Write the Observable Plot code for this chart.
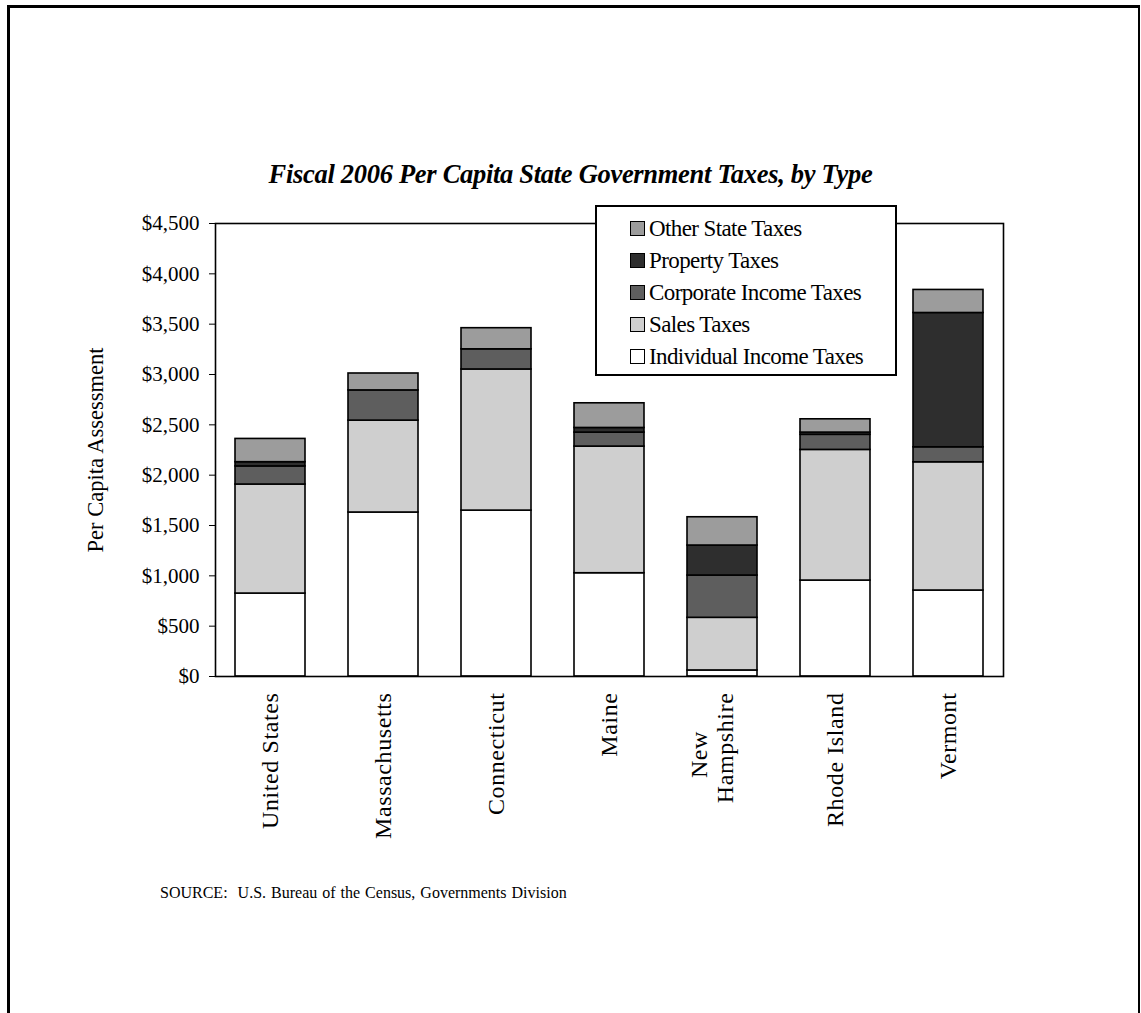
<!DOCTYPE html>
<html>
<head>
<meta charset="utf-8">
<script src="https://cdn.jsdelivr.net/npm/d3@7"></script>
<script src="https://cdn.jsdelivr.net/npm/@observablehq/plot@0.6"></script>
<style>
  html, body { margin: 0; padding: 0; background: #fff; }
  body { width: 1141px; height: 1013px; position: relative; overflow: hidden; font-family: "Liberation Serif", "Times New Roman", serif; }
  #page { position: absolute; left: 7px; top: 5px; width: 1133px; height: 1030px; box-sizing: border-box; border-left: 3px solid #000; border-top: 3px solid #000; border-right: 2px solid #000; }
  #title { position: absolute; left: 0; width: 1141px; top: 159px; text-align: center; font-size: 26.5px; font-weight: bold; font-style: italic; color: #000; letter-spacing: -0.3px; }
  #chart { position: absolute; left: 0; top: 0; }
  #legend { position: absolute; left: 595px; top: 205px; width: 302px; height: 171px; box-sizing: border-box; border: 2px solid #000; background: #fff; padding-top: 5px; }
  .row { position: relative; height: 32px; display: flex; align-items: center; padding-left: 33px; font-size: 23px; letter-spacing: -0.6px; line-height: 1; }
  .sw { width: 13px; height: 13px; border: 1.5px solid #000; margin-right: 4px; flex: none; }
  #source { position: absolute; left: 160px; top: 884px; font-size: 16px; color: #000; word-spacing: 1px; }
</style>
</head>
<body>
<div id="page"></div>
<div id="chart"></div>
<div id="title">Fiscal 2006 Per Capita State Government Taxes, by Type</div>
<div id="legend"></div>
<div id="source">SOURCE:&nbsp; U.S. Bureau of the Census, Governments Division</div>
<script>
// ---- data (per capita dollars) ----
const states = ["United States", "Massachusetts", "Connecticut", "Maine", "New Hampshire", "Rhode Island", "Vermont"];
const taxTypes = ["Individual Income Taxes", "Sales Taxes", "Corporate Income Taxes", "Property Taxes", "Other State Taxes"];
const individualIncome = [824, 1629, 1648, 1026, 60, 953, 854];
const salesTaxes = [1083, 913, 1402, 1258, 523, 1298, 1274];
const corporateIncome = [180, 300, 200, 139, 420, 150, 149];
const propertyTaxes = [42, 0, 0, 46, 298, 22, 1334];
const otherTaxes = [231, 168, 210, 245, 281, 132, 229];
const yTicks = [0, 500, 1000, 1500, 2000, 2500, 3000, 3500, 4000, 4500];
const typeColors = ["#ffffff", "#cfcfcf", "#5e5e5e", "#2e2e2e", "#9c9c9c"];

const series = [individualIncome, salesTaxes, corporateIncome, propertyTaxes, otherTaxes];
const table = [];
states.forEach((s, i) => taxTypes.forEach((t, j) => table.push({state: s, type: t, value: series[j][i]})));

const serif = "Liberation Serif, Times New Roman, serif";
const W = 1141, H = 900;
const otherStates = states.filter(s => s !== "New Hampshire");

const chart = Plot.plot({
  width: W,
  height: H,
  marginTop: 223,
  marginLeft: 215,
  marginRight: 138,
  marginBottom: H - 676,
  style: {fontFamily: serif, background: "transparent", color: "#000"},
  x: {domain: states, paddingInner: 0.38, paddingOuter: 0.17, axis: null},
  y: {domain: [0, 4500], axis: null},
  color: {domain: taxTypes, range: typeColors},
  marks: [
    Plot.barY(table, Plot.stackY({order: taxTypes}, {x: "state", y: "value", fill: "type", stroke: "#000", strokeWidth: 1.6})),
    Plot.frame({stroke: "#000", strokeWidth: 1.6}),
    Plot.axisY({
      ticks: yTicks, tickSize: 6, tickPadding: 10, fontSize: 21,
      tickFormat: d => "$" + d3.format(",")(d),
      label: "Per Capita Assessment", labelAnchor: "center", labelArrow: "none", labelOffset: 128
    }),
    Plot.text(otherStates, {x: d => d, frameAnchor: "bottom", rotate: -90, textAnchor: "end", dy: 16, fontSize: 24, lineAnchor: "middle"}),
    Plot.text(["Hampshire"], {x: () => "New Hampshire", frameAnchor: "bottom", rotate: -90, textAnchor: "end", dy: 16, dx: 3, fontSize: 24, lineAnchor: "middle"}),
    Plot.text(["New"], {x: () => "New Hampshire", frameAnchor: "bottom", rotate: -90, textAnchor: "middle", dy: 78, dx: -23, fontSize: 24, lineAnchor: "middle"})
  ]
});
document.getElementById("chart").appendChild(chart);

// y label font size
const yl = chart.querySelector("g[aria-label='y-axis label']");
if (yl) yl.querySelectorAll("text").forEach(t => { t.style.fontSize = "22.5px"; });
chart.querySelectorAll("g[aria-label='text'] text").forEach(t => t.style.letterSpacing = "0.6px");

// legend (top entry = last stacked type)
const legend = document.getElementById("legend");
taxTypes.slice().reverse().forEach(t => {
  const i = taxTypes.indexOf(t);
  const row = document.createElement("div");
  row.className = "row";
  const sw = document.createElement("span");
  sw.className = "sw";
  sw.style.background = typeColors[i];
  row.appendChild(sw);
  row.appendChild(document.createTextNode(t));
  legend.appendChild(row);
});
</script>
</body>
</html>
